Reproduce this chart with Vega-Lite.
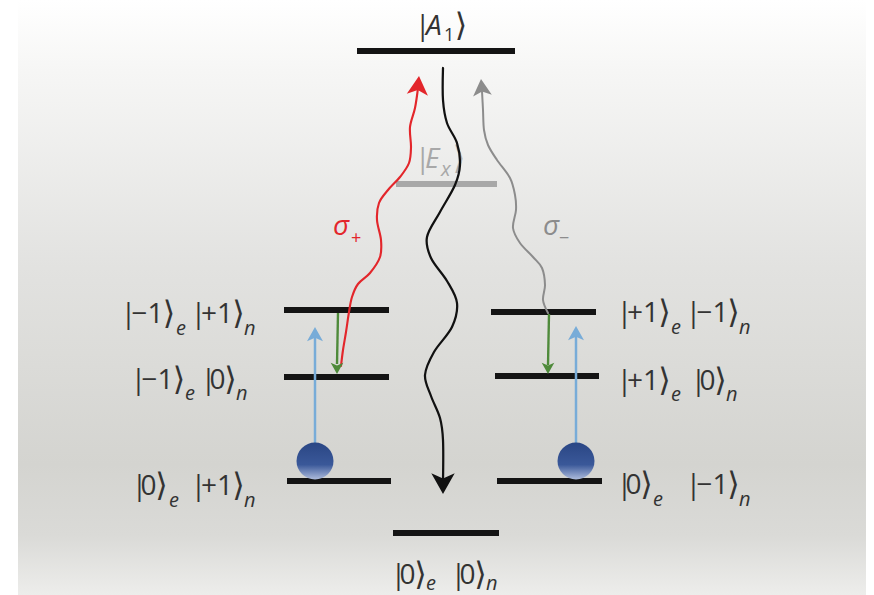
{
  "$schema": "https://vega.github.io/schema/vega-lite/v6.json",
  "width": 874,
  "height": 595,
  "autosize": {"type": "fit", "contains": "padding"},
  "padding": 0,
  "background": "#ffffff",
  "config": {"view": {"stroke": null}},
  "datasets": {
    "panel": [{"x": 18, "x2": 866, "y": 0, "y2": 595}],
    "levels": [
      {"state": "A1", "x": 357, "x2": 515, "y": 51, "tone": "level"},
      {"state": "Ex", "x": 396, "x2": 497, "y": 184, "tone": "Ex"},
      {"state": "-1e +1n", "x": 284, "x2": 389, "y": 310, "tone": "level"},
      {"state": "-1e 0n", "x": 284, "x2": 389, "y": 377, "tone": "level"},
      {"state": "0e +1n", "x": 287, "x2": 391, "y": 481, "tone": "level"},
      {"state": "+1e -1n", "x": 491, "x2": 596, "y": 312, "tone": "level"},
      {"state": "+1e 0n", "x": 495, "x2": 599, "y": 376, "tone": "level"},
      {"state": "0e -1n", "x": 497, "x2": 602, "y": 481, "tone": "level"},
      {"state": "0e 0n", "x": 393, "x2": 499, "y": 533, "tone": "level"}
    ],
    "waves": [
      {"kind": "decay", "i": 0, "x": 443, "y": 68},
      {"kind": "decay", "i": 1, "x": 443, "y": 100},
      {"kind": "decay", "i": 2, "x": 447, "y": 123},
      {"kind": "decay", "i": 3, "x": 457, "y": 143},
      {"kind": "decay", "i": 4, "x": 460, "y": 165},
      {"kind": "decay", "i": 5, "x": 455, "y": 185},
      {"kind": "decay", "i": 6, "x": 440, "y": 212},
      {"kind": "decay", "i": 7, "x": 427, "y": 237},
      {"kind": "decay", "i": 8, "x": 431, "y": 258},
      {"kind": "decay", "i": 9, "x": 447, "y": 281},
      {"kind": "decay", "i": 10, "x": 457, "y": 303},
      {"kind": "decay", "i": 11, "x": 452, "y": 327},
      {"kind": "decay", "i": 12, "x": 434, "y": 352},
      {"kind": "decay", "i": 13, "x": 425, "y": 375},
      {"kind": "decay", "i": 14, "x": 431, "y": 396},
      {"kind": "decay", "i": 15, "x": 440, "y": 418},
      {"kind": "decay", "i": 16, "x": 443, "y": 440},
      {"kind": "decay", "i": 17, "x": 443, "y": 481},
      {"kind": "sigma+", "i": 0, "x": 341, "y": 366},
      {"kind": "sigma+", "i": 1, "x": 343, "y": 350},
      {"kind": "sigma+", "i": 2, "x": 346, "y": 332},
      {"kind": "sigma+", "i": 3, "x": 349, "y": 312},
      {"kind": "sigma+", "i": 4, "x": 352, "y": 297},
      {"kind": "sigma+", "i": 5, "x": 358, "y": 284},
      {"kind": "sigma+", "i": 6, "x": 370, "y": 273},
      {"kind": "sigma+", "i": 7, "x": 380, "y": 257},
      {"kind": "sigma+", "i": 8, "x": 381, "y": 240},
      {"kind": "sigma+", "i": 9, "x": 377, "y": 220},
      {"kind": "sigma+", "i": 10, "x": 379, "y": 203},
      {"kind": "sigma+", "i": 11, "x": 388, "y": 190},
      {"kind": "sigma+", "i": 12, "x": 400, "y": 177},
      {"kind": "sigma+", "i": 13, "x": 409, "y": 163},
      {"kind": "sigma+", "i": 14, "x": 411, "y": 147},
      {"kind": "sigma+", "i": 15, "x": 410, "y": 127},
      {"kind": "sigma+", "i": 16, "x": 415, "y": 108},
      {"kind": "sigma+", "i": 17, "x": 418, "y": 88},
      {"kind": "sigma-", "i": 0, "x": 548, "y": 313},
      {"kind": "sigma-", "i": 1, "x": 543, "y": 300},
      {"kind": "sigma-", "i": 2, "x": 545, "y": 285},
      {"kind": "sigma-", "i": 3, "x": 542, "y": 268},
      {"kind": "sigma-", "i": 4, "x": 533, "y": 257},
      {"kind": "sigma-", "i": 5, "x": 520, "y": 243},
      {"kind": "sigma-", "i": 6, "x": 513, "y": 228},
      {"kind": "sigma-", "i": 7, "x": 516, "y": 210},
      {"kind": "sigma-", "i": 8, "x": 515, "y": 195},
      {"kind": "sigma-", "i": 9, "x": 510, "y": 178},
      {"kind": "sigma-", "i": 10, "x": 497, "y": 160},
      {"kind": "sigma-", "i": 11, "x": 488, "y": 145},
      {"kind": "sigma-", "i": 12, "x": 484, "y": 130},
      {"kind": "sigma-", "i": 13, "x": 483, "y": 110},
      {"kind": "sigma-", "i": 14, "x": 482, "y": 91}
    ],
    "shafts": [
      {"kind": "pump", "x": 315, "y": 443, "x2": 315, "y2": 336},
      {"kind": "pump", "x": 576, "y": 443, "x2": 576, "y2": 335},
      {"kind": "relax", "x": 338, "y": 313, "x2": 337, "y2": 364},
      {"kind": "relax", "x": 549, "y": 314, "x2": 548, "y2": 365}
    ],
    "heads": [
      {"kind": "pump", "x": 315, "y": 327, "angle": 0},
      {"kind": "pump", "x": 576, "y": 326, "angle": 0},
      {"kind": "relax", "x": 337, "y": 374, "angle": 180},
      {"kind": "relax", "x": 548, "y": 374, "angle": 180},
      {"kind": "decay", "x": 443, "y": 494, "angle": 180},
      {"kind": "sigma+", "x": 419, "y": 76, "angle": 5},
      {"kind": "sigma-", "x": 481, "y": 79, "angle": -5}
    ],
    "balls": [
      {"side": "left", "x": 315, "y": 461},
      {"side": "right", "x": 576, "y": 461}
    ],
    "labels": [
      {"label": "A1", "part": "glyph", "text": "|", "x": 415, "y": 35, "tone": "state"},
      {"label": "A1", "part": "var", "text": "A", "x": 426, "y": 35, "tone": "state"},
      {"label": "A1", "part": "idx", "text": "1", "x": 444, "y": 41, "tone": "state"},
      {"label": "A1", "part": "br", "text": "⟩", "x": 461, "y": 36, "tone": "state"},
      {"label": "Ex", "part": "glyph", "text": "|", "x": 415, "y": 168, "tone": "Ex"},
      {"label": "Ex", "part": "var", "text": "E", "x": 425, "y": 168, "tone": "Ex"},
      {"label": "Ex", "part": "sub", "text": "x", "x": 441, "y": 176, "tone": "Ex"},
      {"label": "Ex", "part": "br", "text": "⟩", "x": 459, "y": 169, "tone": "Ex"},
      {"label": "sigma+", "part": "var", "text": "σ", "x": 333, "y": 235, "tone": "sigma+"},
      {"label": "sigma+", "part": "idx", "text": "+", "x": 351, "y": 244, "tone": "sigma+"},
      {"label": "sigma-", "part": "var", "text": "σ", "x": 543, "y": 235, "tone": "sigma-"},
      {"label": "sigma-", "part": "idx", "text": "−", "x": 559, "y": 244, "tone": "sigma-"},

      {"label": "-1e +1n", "part": "c", "text": "|", "x": 128.5, "y": 323, "tone": "state"},
      {"label": "-1e +1n", "part": "c", "text": "−1", "x": 147.5, "y": 323, "tone": "state"},
      {"label": "-1e +1n", "part": "br", "text": "⟩", "x": 169, "y": 324, "tone": "state"},
      {"label": "-1e +1n", "part": "sub", "text": "e", "x": 176, "y": 335, "tone": "state"},
      {"label": "-1e +1n", "part": "c", "text": "|", "x": 198.5, "y": 323, "tone": "state"},
      {"label": "-1e +1n", "part": "c", "text": "+1", "x": 217, "y": 323, "tone": "state"},
      {"label": "-1e +1n", "part": "br", "text": "⟩", "x": 238.5, "y": 324, "tone": "state"},
      {"label": "-1e +1n", "part": "sub", "text": "n", "x": 244, "y": 335, "tone": "state"},

      {"label": "-1e 0n", "part": "c", "text": "|", "x": 138.5, "y": 389, "tone": "state"},
      {"label": "-1e 0n", "part": "c", "text": "−1", "x": 157.5, "y": 389, "tone": "state"},
      {"label": "-1e 0n", "part": "br", "text": "⟩", "x": 179, "y": 390, "tone": "state"},
      {"label": "-1e 0n", "part": "sub", "text": "e", "x": 185, "y": 400, "tone": "state"},
      {"label": "-1e 0n", "part": "c", "text": "|", "x": 208.5, "y": 389, "tone": "state"},
      {"label": "-1e 0n", "part": "c", "text": "0", "x": 217.5, "y": 389, "tone": "state"},
      {"label": "-1e 0n", "part": "br", "text": "⟩", "x": 230.5, "y": 390, "tone": "state"},
      {"label": "-1e 0n", "part": "sub", "text": "n", "x": 236, "y": 400, "tone": "state"},

      {"label": "0e +1n", "part": "c", "text": "|", "x": 139.5, "y": 495, "tone": "state"},
      {"label": "0e +1n", "part": "c", "text": "0", "x": 148.5, "y": 495, "tone": "state"},
      {"label": "0e +1n", "part": "br", "text": "⟩", "x": 161.5, "y": 496, "tone": "state"},
      {"label": "0e +1n", "part": "sub", "text": "e", "x": 169, "y": 507, "tone": "state"},
      {"label": "0e +1n", "part": "c", "text": "|", "x": 198.5, "y": 495, "tone": "state"},
      {"label": "0e +1n", "part": "c", "text": "+1", "x": 217, "y": 495, "tone": "state"},
      {"label": "0e +1n", "part": "br", "text": "⟩", "x": 238.5, "y": 496, "tone": "state"},
      {"label": "0e +1n", "part": "sub", "text": "n", "x": 244, "y": 507, "tone": "state"},

      {"label": "+1e -1n", "part": "c", "text": "|", "x": 624.5, "y": 322, "tone": "state"},
      {"label": "+1e -1n", "part": "c", "text": "+1", "x": 643, "y": 322, "tone": "state"},
      {"label": "+1e -1n", "part": "br", "text": "⟩", "x": 664.5, "y": 323, "tone": "state"},
      {"label": "+1e -1n", "part": "sub", "text": "e", "x": 671, "y": 334, "tone": "state"},
      {"label": "+1e -1n", "part": "c", "text": "|", "x": 693.5, "y": 322, "tone": "state"},
      {"label": "+1e -1n", "part": "c", "text": "−1", "x": 712.5, "y": 322, "tone": "state"},
      {"label": "+1e -1n", "part": "br", "text": "⟩", "x": 733.5, "y": 323, "tone": "state"},
      {"label": "+1e -1n", "part": "sub", "text": "n", "x": 739, "y": 334, "tone": "state"},

      {"label": "+1e 0n", "part": "c", "text": "|", "x": 624.5, "y": 390, "tone": "state"},
      {"label": "+1e 0n", "part": "c", "text": "+1", "x": 643, "y": 390, "tone": "state"},
      {"label": "+1e 0n", "part": "br", "text": "⟩", "x": 664.5, "y": 391, "tone": "state"},
      {"label": "+1e 0n", "part": "sub", "text": "e", "x": 671, "y": 401, "tone": "state"},
      {"label": "+1e 0n", "part": "c", "text": "|", "x": 698.5, "y": 390, "tone": "state"},
      {"label": "+1e 0n", "part": "c", "text": "0", "x": 707.5, "y": 390, "tone": "state"},
      {"label": "+1e 0n", "part": "br", "text": "⟩", "x": 720.5, "y": 391, "tone": "state"},
      {"label": "+1e 0n", "part": "sub", "text": "n", "x": 726, "y": 401, "tone": "state"},

      {"label": "0e -1n", "part": "c", "text": "|", "x": 624.5, "y": 494, "tone": "state"},
      {"label": "0e -1n", "part": "c", "text": "0", "x": 633.5, "y": 494, "tone": "state"},
      {"label": "0e -1n", "part": "br", "text": "⟩", "x": 646.5, "y": 495, "tone": "state"},
      {"label": "0e -1n", "part": "sub", "text": "e", "x": 653, "y": 506, "tone": "state"},
      {"label": "0e -1n", "part": "c", "text": "|", "x": 693.5, "y": 494, "tone": "state"},
      {"label": "0e -1n", "part": "c", "text": "−1", "x": 712.5, "y": 494, "tone": "state"},
      {"label": "0e -1n", "part": "br", "text": "⟩", "x": 733.5, "y": 495, "tone": "state"},
      {"label": "0e -1n", "part": "sub", "text": "n", "x": 739, "y": 506, "tone": "state"},

      {"label": "0e 0n", "part": "c", "text": "|", "x": 398.5, "y": 584, "tone": "state"},
      {"label": "0e 0n", "part": "c", "text": "0", "x": 407.5, "y": 584, "tone": "state"},
      {"label": "0e 0n", "part": "br", "text": "⟩", "x": 420.5, "y": 585, "tone": "state"},
      {"label": "0e 0n", "part": "sub", "text": "e", "x": 426, "y": 590, "tone": "state"},
      {"label": "0e 0n", "part": "c", "text": "|", "x": 458.5, "y": 584, "tone": "state"},
      {"label": "0e 0n", "part": "c", "text": "0", "x": 467.5, "y": 584, "tone": "state"},
      {"label": "0e 0n", "part": "br", "text": "⟩", "x": 480.5, "y": 585, "tone": "state"},
      {"label": "0e 0n", "part": "sub", "text": "n", "x": 486, "y": 590, "tone": "state"}
    ]
  },
  "encoding": {
    "x": {"field": "x", "type": "quantitative", "scale": {"domain": [0, 874], "nice": false, "zero": false}, "axis": null},
    "y": {"field": "y", "type": "quantitative", "scale": {"domain": [0, 595], "nice": false, "zero": false, "reverse": true}, "axis": null}
  },
  "layer": [
    {
      "data": {"name": "panel"},
      "mark": {
        "type": "rect",
        "fill": {
          "gradient": "linear", "x1": 0, "y1": 0, "x2": 0, "y2": 1,
          "stops": [
            {"offset": 0, "color": "#ffffff"},
            {"offset": 0.12, "color": "#f6f6f5"},
            {"offset": 0.45, "color": "#e2e2e0"},
            {"offset": 0.78, "color": "#d4d4d0"},
            {"offset": 0.9, "color": "#dadad7"},
            {"offset": 1, "color": "#ededeb"}
          ]
        }
      },
      "encoding": {"x2": {"field": "x2"}, "y2": {"field": "y2"}}
    },
    {
      "data": {"name": "levels"},
      "mark": {"type": "rule", "strokeWidth": 6, "strokeCap": "butt"},
      "encoding": {
        "x2": {"field": "x2"},
        "color": {"field": "tone", "type": "nominal", "legend": null,
          "scale": {"domain": ["decay", "sigma+", "sigma-", "pump", "relax", "state", "Ex", "level"],
                    "range": ["#111111", "#e3262b", "#8c8c8c", "#78acd8", "#4e8a3a", "#333333", "#a8a8a8", "#141414"]}}
      }
    },
    {
      "data": {"name": "labels"},
      "transform": [{"filter": "datum.label === 'Ex'"}],
      "layer": [
        {
          "transform": [{"filter": "datum.part === 'glyph'"}],
          "mark": {"type": "text", "align": "left", "baseline": "alphabetic", "font": "'Open Sans', 'DejaVu Sans', sans-serif", "fontSize": 28}
        },
        {
          "transform": [{"filter": "datum.part === 'br'"}],
          "mark": {"type": "text", "align": "center", "baseline": "alphabetic", "font": "'DejaVu Sans', sans-serif", "fontSize": 32}
        },
        {
          "transform": [{"filter": "datum.part === 'var'"}],
          "mark": {"type": "text", "align": "left", "baseline": "alphabetic", "font": "'Open Sans', 'DejaVu Sans', sans-serif", "fontSize": 28, "fontStyle": "italic"}
        },
        {
          "transform": [{"filter": "datum.part === 'sub'"}],
          "mark": {"type": "text", "align": "left", "baseline": "alphabetic", "font": "'Open Sans', 'DejaVu Sans', sans-serif", "fontSize": 20, "fontStyle": "italic"}
        }
      ],
      "encoding": {
        "text": {"field": "text"},
        "color": {"field": "tone", "type": "nominal", "legend": null,
          "scale": {"domain": ["decay", "sigma+", "sigma-", "pump", "relax", "state", "Ex", "level"],
                    "range": ["#111111", "#e3262b", "#8c8c8c", "#78acd8", "#4e8a3a", "#333333", "#a8a8a8", "#141414"]}}
      }
    },
    {
      "data": {"name": "shafts"},
      "mark": {"type": "rule", "strokeCap": "butt"},
      "encoding": {
        "x2": {"field": "x2"},
        "y2": {"field": "y2"},
        "strokeWidth": {"field": "kind", "type": "nominal", "legend": null,
          "scale": {"domain": ["pump", "relax"], "range": [2.5, 2]}},
        "color": {"field": "kind", "type": "nominal", "legend": null,
          "scale": {"domain": ["decay", "sigma+", "sigma-", "pump", "relax", "state", "Ex", "level"],
                    "range": ["#111111", "#e3262b", "#8c8c8c", "#78acd8", "#4e8a3a", "#333333", "#a8a8a8", "#141414"]}}
      }
    },
    {
      "data": {"name": "waves"},
      "mark": {"type": "line", "interpolate": "cardinal", "strokeCap": "round", "strokeJoin": "round"},
      "encoding": {
        "order": {"field": "i", "type": "quantitative"},
        "detail": {"field": "kind"},
        "strokeWidth": {"field": "kind", "type": "nominal", "legend": null,
          "scale": {"domain": ["decay", "sigma+", "sigma-"], "range": [5, 1.9, 1.7]}},
        "color": {"field": "kind", "type": "nominal", "legend": null,
          "scale": {"domain": ["decay", "sigma+", "sigma-", "pump", "relax", "state", "Ex", "level"],
                    "range": ["#111111", "#e3262b", "#8c8c8c", "#78acd8", "#4e8a3a", "#333333", "#a8a8a8", "#141414"]}}
      }
    },
    {
      "data": {"name": "heads"},
      "mark": {"type": "point", "filled": true, "opacity": 1, "shape": "M0,0 L0.9,1.6 L0,1.2 L-0.9,1.6 Z"},
      "encoding": {
        "angle": {"field": "angle", "type": "quantitative", "scale": null},
        "size": {"field": "kind", "type": "nominal", "legend": null,
          "scale": {"domain": ["decay", "sigma+", "sigma-", "pump", "relax"], "range": [676, 196, 196, 256, 324]}},
        "color": {"field": "kind", "type": "nominal", "legend": null,
          "scale": {"domain": ["decay", "sigma+", "sigma-", "pump", "relax", "state", "Ex", "level"],
                    "range": ["#111111", "#e3262b", "#8c8c8c", "#78acd8", "#4e8a3a", "#333333", "#a8a8a8", "#141414"]}}
      }
    },
    {
      "data": {"name": "balls"},
      "mark": {
        "type": "point", "shape": "circle", "size": 1369, "filled": true, "opacity": 1, "strokeWidth": 0,
        "fill": {
          "gradient": "linear", "x1": 0, "y1": 0, "x2": 0, "y2": 1,
          "stops": [
            {"offset": 0, "color": "#2a4684"},
            {"offset": 0.6, "color": "#3a5899"},
            {"offset": 1, "color": "#aebcdc"}
          ]
        }
      }
    },
    {
      "data": {"name": "labels"},
      "transform": [{"filter": "datum.label !== 'Ex'"}],
      "layer": [
        {
          "transform": [{"filter": "datum.part === 'c'"}],
          "mark": {"type": "text", "align": "center", "baseline": "alphabetic", "font": "'Open Sans', 'DejaVu Sans', sans-serif", "fontSize": 28}
        },
        {
          "transform": [{"filter": "datum.part === 'br'"}],
          "mark": {"type": "text", "align": "center", "baseline": "alphabetic", "font": "'DejaVu Sans', sans-serif", "fontSize": 32}
        },
        {
          "transform": [{"filter": "datum.part === 'glyph'"}],
          "mark": {"type": "text", "align": "left", "baseline": "alphabetic", "font": "'Open Sans', 'DejaVu Sans', sans-serif", "fontSize": 28}
        },
        {
          "transform": [{"filter": "datum.part === 'var'"}],
          "mark": {"type": "text", "align": "left", "baseline": "alphabetic", "font": "'Open Sans', 'DejaVu Sans', sans-serif", "fontSize": 28, "fontStyle": "italic"}
        },
        {
          "transform": [{"filter": "datum.part === 'sub'"}],
          "mark": {"type": "text", "align": "left", "baseline": "alphabetic", "font": "'Open Sans', 'DejaVu Sans', sans-serif", "fontSize": 20, "fontStyle": "italic"}
        },
        {
          "transform": [{"filter": "datum.part === 'idx'"}],
          "mark": {"type": "text", "align": "left", "baseline": "alphabetic", "font": "'Open Sans', 'DejaVu Sans', sans-serif", "fontSize": 18}
        }
      ],
      "encoding": {
        "text": {"field": "text"},
        "color": {"field": "tone", "type": "nominal", "legend": null,
          "scale": {"domain": ["decay", "sigma+", "sigma-", "pump", "relax", "state", "Ex", "level"],
                    "range": ["#111111", "#e3262b", "#8c8c8c", "#78acd8", "#4e8a3a", "#333333", "#a8a8a8", "#141414"]}}
      }
    }
  ]
}
